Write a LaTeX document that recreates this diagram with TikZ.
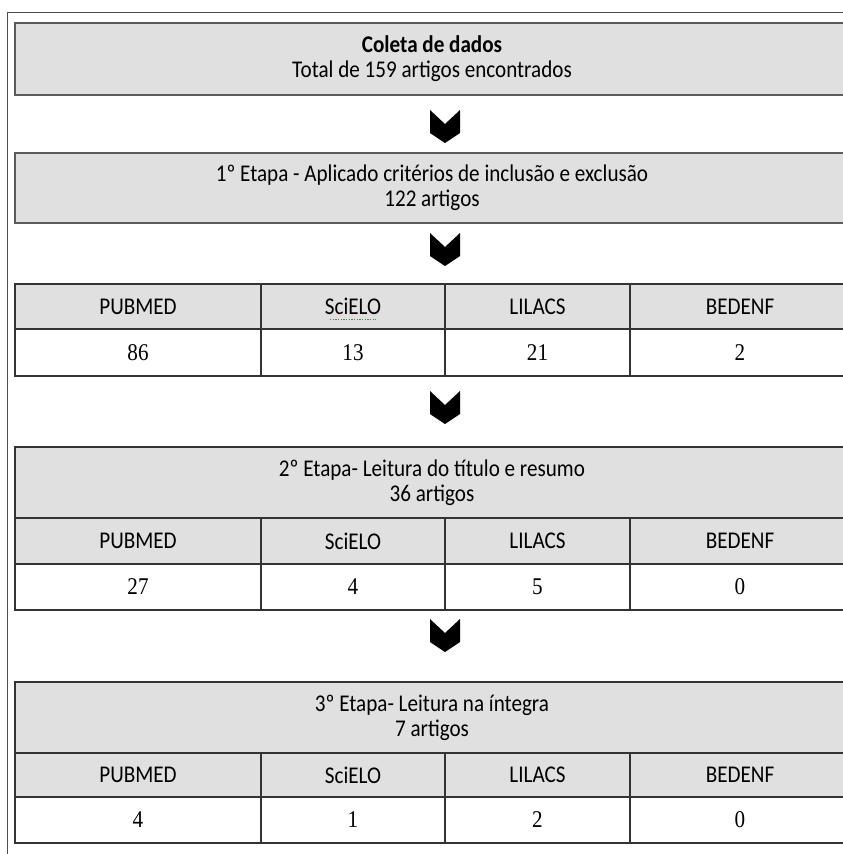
\documentclass[tikz,border=0pt]{standalone}
\usepackage{fontspec}
\setmainfont{Liberation Serif}[FakeStretch=0.88]
\newfontfamily\calib{Carlito}[FakeStretch=0.88]
\definecolor{boxgray}{RGB}{225,224,225}
\definecolor{edgegray}{RGB}{90,90,90}
\begin{document}
\begin{tikzpicture}[x=0.75pt,y=-0.75pt,
  gbox/.style={draw=edgegray, line width=1.4pt, fill=boxgray, inner sep=0pt,
    align=center, font=\calib\fontsize{18}{18.75}\selectfont,
    minimum width=625.5pt},
  hcell/.style={draw=black!80, line width=0.9pt, fill=boxgray, inner sep=0pt,
    font=\calib\fontsize{18}{18}\selectfont},
  vcell/.style={draw=black!80, line width=0.9pt, fill=white, inner sep=0pt,
    font=\fontsize{18}{18}\selectfont},
  titlecell/.style={draw=black!80, line width=0.9pt, fill=boxgray, inner sep=0pt,
    align=center, font=\calib\fontsize{18}{18.75}\selectfont,
    minimum width=625.5pt, minimum height=53.25pt},
  wA/.style={minimum width=184.5pt},
  wB/.style={minimum width=138pt},
  wC/.style={minimum width=138.75pt},
  wD/.style={minimum width=165pt},
  chev/.pic={\fill[black] (-15,-16.5) -- (0,-2.5) -- (15,-16.5) -- (15,6.5) -- (0,16.5) -- (-15,6.5) -- cycle;}
]
\useasboundingbox (0,0) rectangle (843,854);
\clip (0,0) rectangle (843,854);
\fill[white] (0,0) rectangle (843,854);
% page frame
\draw[black!70, line width=0.75pt] (7,860) -- (7,12) -- (870,12);

% box 1
\node[gbox, minimum height=54pt] (b1) at (432,59)
  {\textbf{Coleta de dados}\\Total de 159 artigos encontrados};
% box 2
\node[gbox, minimum height=52.5pt] (b2) at (432,188)
  {1º Etapa - Aplicado critérios de inclusão e exclusão\\122 artigos};

% table 1
\node[hcell, wA, minimum height=33.75pt] (t1h1) at (138,306.5) {PUBMED};
\node[hcell, wB, minimum height=33.75pt] (t1h2) at (353,306.5) {SciELO};
\node[hcell, wC, minimum height=33.75pt] (t1h3) at (537.5,306.5) {LILACS};
\node[hcell, wD, minimum height=33.75pt] (t1h4) at (740,306.5) {BEDENF};
\node[vcell, wA, minimum height=35.25pt] (t1v1) at (138,352.5) {86};
\node[vcell, wB, minimum height=35.25pt] (t1v2) at (353,352.5) {13};
\node[vcell, wC, minimum height=35.25pt] (t1v3) at (537.5,352.5) {21};
\node[vcell, wD, minimum height=35.25pt] (t1v4) at (740,352.5) {2};
\draw[red!80, line width=0.5pt, dash pattern=on 1pt off 1pt] (330,319) -- (376,319);

% table 2
\node[titlecell] (t2t) at (432,482.5) {2º Etapa- Leitura do título e resumo\\36 artigos};
\node[hcell, wA, minimum height=34.5pt] (t2h1) at (138,541) {PUBMED};
\node[hcell, wB, minimum height=34.5pt] (t2h2) at (353,541) {SciELO};
\node[hcell, wC, minimum height=34.5pt] (t2h3) at (537.5,541) {LILACS};
\node[hcell, wD, minimum height=34.5pt] (t2h4) at (740,541) {BEDENF};
\node[vcell, wA, minimum height=34.5pt] (t2v1) at (138,587) {27};
\node[vcell, wB, minimum height=34.5pt] (t2v2) at (353,587) {4};
\node[vcell, wC, minimum height=34.5pt] (t2v3) at (537.5,587) {5};
\node[vcell, wD, minimum height=34.5pt] (t2v4) at (740,587) {0};

% table 3
\node[titlecell] (t3t) at (432,717.5) {3º Etapa- Leitura na íntegra\\7 artigos};
\node[hcell, wA, minimum height=33pt] (t3h1) at (138,775) {PUBMED};
\node[hcell, wB, minimum height=33pt] (t3h2) at (353,775) {SciELO};
\node[hcell, wC, minimum height=33pt] (t3h3) at (537.5,775) {LILACS};
\node[hcell, wD, minimum height=33pt] (t3h4) at (740,775) {BEDENF};
\node[vcell, wA, minimum height=34.5pt] (t3v1) at (138,820) {4};
\node[vcell, wB, minimum height=34.5pt] (t3v2) at (353,820) {1};
\node[vcell, wC, minimum height=34.5pt] (t3v3) at (537.5,820) {2};
\node[vcell, wD, minimum height=34.5pt] (t3v4) at (740,820) {0};

% chevron arrows
\coordinate (a1) at (445,126.5);
\coordinate (a2) at (445,249.5);
\coordinate (a3) at (445,407.5);
\coordinate (a4) at (445,635.5);
\pic at (a1) {chev};
\pic at (a2) {chev};
\pic at (a3) {chev};
\pic at (a4) {chev};
\end{tikzpicture}
\end{document}
